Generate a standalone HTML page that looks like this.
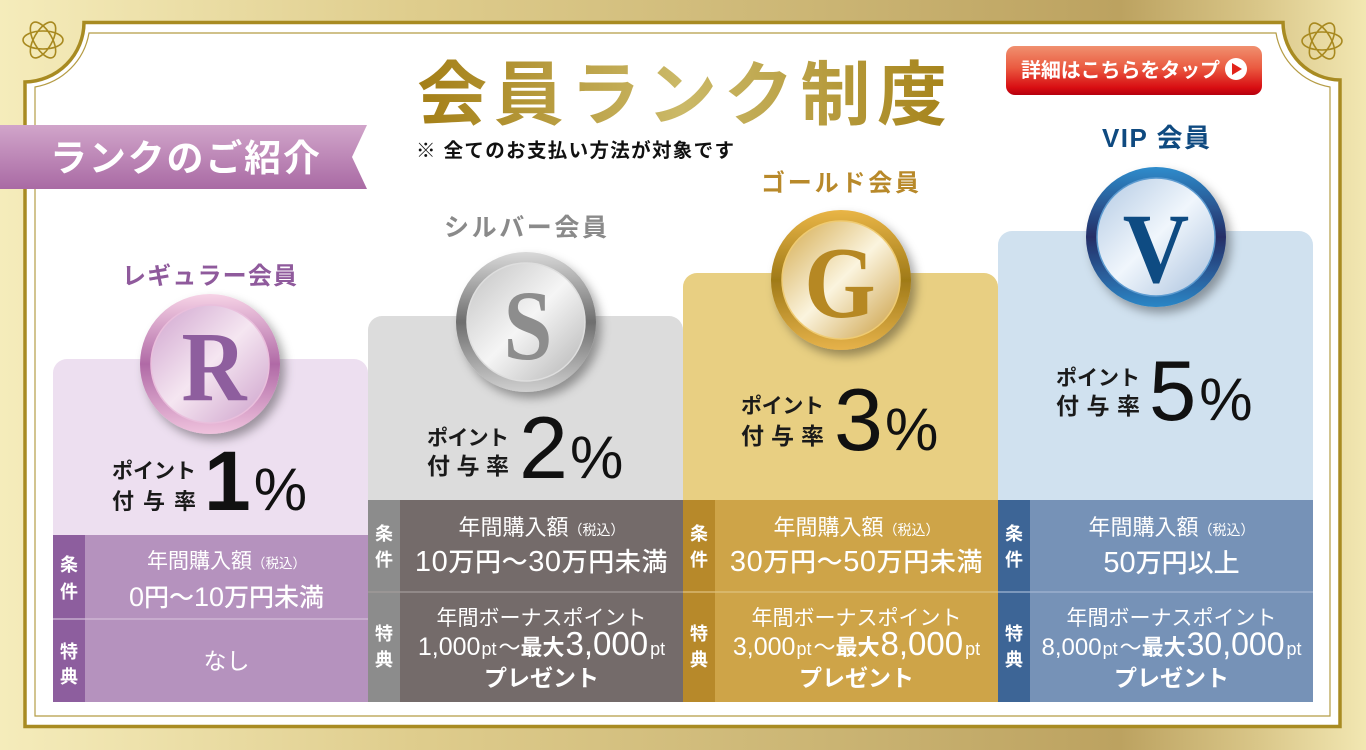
<!DOCTYPE html>
<html><head><meta charset="utf-8">
<style>
html,body{margin:0;padding:0;width:1366px;height:750px;overflow:hidden;background:#fff}
svg{display:block}
text{font-family:"Liberation Sans","Noto Sans CJK JP",sans-serif}
.s{font-family:"Liberation Serif",serif}
</style></head><body>
<svg width="1366" height="750" viewBox="0 0 1366 750" xmlns="http://www.w3.org/2000/svg">
<defs>
 <linearGradient id="bg" x1="0" y1="0" x2="1366" y2="0" gradientUnits="userSpaceOnUse">
  <stop offset="0" stop-color="#f5ecbb"/>
  <stop offset="0.3" stop-color="#dfcd8d"/>
  <stop offset="0.6" stop-color="#cbb574"/>
  <stop offset="0.82" stop-color="#bca260"/>
  <stop offset="0.92" stop-color="#d9c688"/>
  <stop offset="1" stop-color="#f2e7b2"/>
 </linearGradient>
 <linearGradient id="tg" x1="420" y1="0" x2="945" y2="0" gradientUnits="userSpaceOnUse">
  <stop offset="0" stop-color="#a47f17"/>
  <stop offset="0.5" stop-color="#cbb968"/>
  <stop offset="1" stop-color="#a6841c"/>
 </linearGradient>
 <linearGradient id="rib" x1="0" y1="0" x2="0" y2="1">
  <stop offset="0" stop-color="#d1a5ca"/>
  <stop offset="1" stop-color="#a96aa4"/>
 </linearGradient>
 <linearGradient id="btn" x1="0" y1="0" x2="0" y2="1">
  <stop offset="0" stop-color="#f0906f"/>
  <stop offset="0.45" stop-color="#ea5a40"/>
  <stop offset="0.85" stop-color="#d80d12"/>
  <stop offset="1" stop-color="#b5000e"/>
 </linearGradient>
 <filter id="sh" x="-30%" y="-30%" width="170%" height="170%">
  <feDropShadow dx="5" dy="6" stdDeviation="5" flood-color="#000" flood-opacity="0.35"/>
 </filter>
 <linearGradient id="rR" x1="0" y1="0" x2="0" y2="1">
  <stop offset="0" stop-color="#f6d3e6"/><stop offset="0.5" stop-color="#b06aa6"/><stop offset="1" stop-color="#efc2dd"/>
 </linearGradient>
 <linearGradient id="rF" x1="0" y1="0" x2="1" y2="1">
  <stop offset="0" stop-color="#cfa3ce"/><stop offset="0.5" stop-color="#f5e6f1"/><stop offset="1" stop-color="#cc9fca"/>
 </linearGradient>
 <linearGradient id="sR" x1="0" y1="0" x2="0" y2="1">
  <stop offset="0" stop-color="#d9d9d9"/><stop offset="0.5" stop-color="#6e6e6e"/><stop offset="1" stop-color="#d0d0d0"/>
 </linearGradient>
 <linearGradient id="sF" x1="0" y1="0" x2="1" y2="1">
  <stop offset="0" stop-color="#c2c2c2"/><stop offset="0.5" stop-color="#f5f5f5"/><stop offset="1" stop-color="#b3b3b3"/>
 </linearGradient>
 <linearGradient id="gR" x1="0" y1="0" x2="0" y2="1">
  <stop offset="0" stop-color="#e9b546"/><stop offset="0.5" stop-color="#9f7a18"/><stop offset="1" stop-color="#e6b24a"/>
 </linearGradient>
 <linearGradient id="gF" x1="0" y1="0" x2="1" y2="1">
  <stop offset="0" stop-color="#d3a94b"/><stop offset="0.5" stop-color="#fbf4de"/><stop offset="1" stop-color="#c99b3d"/>
 </linearGradient>
 <linearGradient id="vR" x1="0" y1="0" x2="0" y2="1">
  <stop offset="0" stop-color="#2e8ccc"/><stop offset="0.5" stop-color="#262e66"/><stop offset="1" stop-color="#2c86c6"/>
 </linearGradient>
 <linearGradient id="vF" x1="0" y1="0" x2="1" y2="1">
  <stop offset="0" stop-color="#b2c9e3"/><stop offset="0.5" stop-color="#f0f6fc"/><stop offset="1" stop-color="#a8c0dd"/>
 </linearGradient>
</defs>

<rect x="0" y="0" width="1366" height="750" fill="url(#bg)"/>
<path d="M84,22.5 H1283 A58,58 0 0 0 1340,80 V726.5 H25 V82 A60,60 0 0 0 84,22.5 Z" fill="#fff" stroke="#a88b22" stroke-width="3.5"/>
<path d="M89,33 H1276 A66,66 0 0 0 1330,87 V716 H35 V87 A66,66 0 0 0 89,33 Z" fill="none" stroke="#b59c45" stroke-width="1.2"/>

<g fill="none" stroke="#a8891f" stroke-width="1.6">
 <ellipse cx="43" cy="40" rx="20" ry="9" transform="rotate(0 43 40)"/>
 <ellipse cx="43" cy="40" rx="20" ry="9" transform="rotate(60 43 40)"/>
 <ellipse cx="43" cy="40" rx="20" ry="9" transform="rotate(120 43 40)"/>
 <ellipse cx="1322" cy="41" rx="20" ry="9" transform="rotate(0 1322 41)"/>
 <ellipse cx="1322" cy="41" rx="20" ry="9" transform="rotate(60 1322 41)"/>
 <ellipse cx="1322" cy="41" rx="20" ry="9" transform="rotate(120 1322 41)"/>
</g>

<text x="417" y="119" font-size="70" font-weight="700" fill="url(#tg)" textLength="530" lengthAdjust="spacing">会員ランク制度</text>
<text x="416" y="157" font-size="19.5" font-weight="700" fill="#111" textLength="318" lengthAdjust="spacing">※ 全てのお支払い方法が対象です</text>

<rect x="1006" y="46" width="256" height="49" rx="9" fill="url(#btn)"/>
<text x="1021" y="77" font-size="20" font-weight="700" fill="#fff" textLength="199" lengthAdjust="spacing">詳細はこちらをタップ</text>
<circle cx="1236" cy="69" r="11" fill="#fff"/>
<polygon points="1232,63 1232,75 1242,69" fill="#e2231a"/>

<polygon points="0,125 367,125 352,157 367,189 0,189" fill="url(#rib)"/>
<text x="50" y="171" font-size="37" font-weight="700" fill="#fff" textLength="270" lengthAdjust="spacing">ランクのご紹介</text>

<rect x="53" y="359" width="315" height="60" rx="14" fill="#eddff0"/>
<rect x="53" y="380" width="315" height="155" fill="#eddff0"/>
<rect x="368" y="316" width="315" height="60" rx="14" fill="#dcdcdc"/>
<rect x="368" y="340" width="315" height="160" fill="#dcdcdc"/>
<rect x="683" y="273" width="315" height="60" rx="14" fill="#e8cf82"/>
<rect x="683" y="300" width="315" height="200" fill="#e8cf82"/>
<rect x="998" y="231" width="315" height="60" rx="14" fill="#d0e1ef"/>
<rect x="998" y="260" width="315" height="240" fill="#d0e1ef"/>

<text x="122" y="284" font-size="24" font-weight="700" fill="#8f5a9c" textLength="175" lengthAdjust="spacing">レギュラー会員</text>
<text x="444" y="236" font-size="25" font-weight="700" fill="#8a8a8a" textLength="163" lengthAdjust="spacing">シルバー会員</text>
<text x="761" y="191" font-size="24" font-weight="700" fill="#b8892a" textLength="158" lengthAdjust="spacing">ゴールド会員</text>
<text x="1102" y="147" font-size="26" font-weight="700" fill="#0f4a80" textLength="108" lengthAdjust="spacing">VIP 会員</text>

<g filter="url(#sh)"><circle cx="210" cy="364" r="70" fill="url(#rR)"/></g>
<circle cx="210" cy="364" r="59" fill="url(#rF)" stroke="#e9bfdc" stroke-width="1.5"/>
<text class="s" x="214" y="400" font-size="100" font-weight="700" fill="#8e5e9e" text-anchor="middle" transform="translate(214,0) scale(0.9,1) translate(-214,0)">R</text>

<g filter="url(#sh)"><circle cx="526" cy="322" r="70" fill="url(#sR)"/></g>
<circle cx="526" cy="322" r="59" fill="url(#sF)" stroke="#dedede" stroke-width="1.5"/>
<text class="s" x="528" y="359" font-size="100" font-weight="700" fill="#8d8d8d" text-anchor="middle" transform="translate(528,0) scale(0.88,1) translate(-528,0)">S</text>

<g filter="url(#sh)"><circle cx="841" cy="280" r="70" fill="url(#gR)"/></g>
<circle cx="841" cy="280" r="59" fill="url(#gF)" stroke="#efcb72" stroke-width="1.5"/>
<text class="s" x="840" y="317" font-size="102" font-weight="700" fill="#b68823" text-anchor="middle" transform="translate(840,0) scale(0.9,1) translate(-840,0)">G</text>

<g filter="url(#sh)"><circle cx="1156" cy="237" r="70" fill="url(#vR)"/></g>
<circle cx="1156" cy="237" r="59" fill="url(#vF)" stroke="#5d9bd0" stroke-width="1.5"/>
<text class="s" x="1156" y="282" font-size="100" font-weight="700" fill="#0e4b82" text-anchor="middle" transform="translate(1156,0) scale(0.92,1) translate(-1156,0)">V</text>

<g font-weight="700" fill="#1a1a1a">
 <text x="112" y="478" font-size="21" textLength="84" lengthAdjust="spacing">ポイント</text>
 <text x="112" y="509" font-size="22" textLength="84" lengthAdjust="spacing">付与率</text>
 <text x="427" y="445" font-size="21" textLength="82" lengthAdjust="spacing">ポイント</text>
 <text x="427" y="474" font-size="23" textLength="82" lengthAdjust="spacing">付与率</text>
 <text x="741" y="413" font-size="21" textLength="83" lengthAdjust="spacing">ポイント</text>
 <text x="741" y="444" font-size="23" textLength="83" lengthAdjust="spacing">付与率</text>
 <text x="1056" y="385" font-size="21" textLength="84" lengthAdjust="spacing">ポイント</text>
 <text x="1056" y="414" font-size="23" textLength="84" lengthAdjust="spacing">付与率</text>
</g>
<g fill="#111">
 <text x="204" y="510"><tspan font-size="84" font-weight="700">1</tspan><tspan font-size="60" dx="3">%</tspan></text>
 <text x="519" y="478"><tspan font-size="88">2</tspan><tspan font-size="60" dx="2">%</tspan></text>
 <text x="834" y="450"><tspan font-size="88">3</tspan><tspan font-size="60" dx="2">%</tspan></text>
 <text x="1149" y="420"><tspan font-size="85">5</tspan><tspan font-size="60" dx="3">%</tspan></text>
</g>

<rect x="53" y="535" width="32" height="167" fill="#8d5e9e"/>
<rect x="85" y="535" width="283" height="167" fill="#b592be"/>
<line x1="53" y1="619" x2="368" y2="619" stroke="#d3bdd7" stroke-width="1.2"/>

<rect x="368" y="500" width="32" height="202" fill="#8c8c8c"/>
<rect x="400" y="500" width="283" height="202" fill="#746b6a"/>
<line x1="368" y1="592" x2="683" y2="592" stroke="#a29b9a" stroke-width="1.2"/>

<rect x="683" y="500" width="32" height="202" fill="#b7892a"/>
<rect x="715" y="500" width="283" height="202" fill="#cea448"/>
<line x1="683" y1="592" x2="998" y2="592" stroke="#dfc27f" stroke-width="1.2"/>

<rect x="998" y="500" width="32" height="202" fill="#3d6596"/>
<rect x="1030" y="500" width="283" height="202" fill="#7692b7"/>
<line x1="998" y1="592" x2="1313" y2="592" stroke="#a2b6d2" stroke-width="1.2"/>

<g fill="#fff" font-size="18" font-weight="700" text-anchor="middle">
 <text x="69" y="571">条</text><text x="69" y="598">件</text>
 <text x="69" y="658">特</text><text x="69" y="683">典</text>
 <text x="384" y="540">条</text><text x="384" y="566">件</text>
 <text x="384" y="640">特</text><text x="384" y="666">典</text>
 <text x="699" y="540">条</text><text x="699" y="566">件</text>
 <text x="699" y="640">特</text><text x="699" y="666">典</text>
 <text x="1014" y="540">条</text><text x="1014" y="566">件</text>
 <text x="1014" y="640">特</text><text x="1014" y="666">典</text>
</g>

<g fill="#fff" text-anchor="middle">
 <text x="226.5" y="568" font-size="21">年間購入額<tspan font-size="13.5">（税込）</tspan></text>
 <text x="226.5" y="606" font-size="25" font-weight="500"><tspan font-size="27" font-weight="400">0</tspan>円〜<tspan font-size="27" font-weight="400">10</tspan>万円未満</text>
 <text x="226.5" y="669" font-size="23">なし</text>

 <text x="541.5" y="535" font-size="22">年間購入額<tspan font-size="14">（税込）</tspan></text>
 <text x="541.5" y="571" font-size="26" font-weight="500" letter-spacing="0.6"><tspan font-size="29" font-weight="400">10</tspan>万円〜<tspan font-size="29" font-weight="400">30</tspan>万円未満</text>
 <text x="541.5" y="625" font-size="21">年間ボーナスポイント</text>
 <text x="541.5" y="655"><tspan font-size="25">1,000</tspan><tspan font-size="18" dx="1">pt</tspan><tspan font-size="22" dx="2">〜</tspan><tspan font-size="22" font-weight="700">最大</tspan><tspan font-size="33" dx="1">3,000</tspan><tspan font-size="18" dx="2">pt</tspan></text>
 <text x="541.5" y="686" font-size="23" font-weight="700">プレゼント</text>

 <text x="856.5" y="535" font-size="22">年間購入額<tspan font-size="14">（税込）</tspan></text>
 <text x="856.5" y="571" font-size="26" font-weight="500" letter-spacing="0.6"><tspan font-size="29" font-weight="400">30</tspan>万円〜<tspan font-size="29" font-weight="400">50</tspan>万円未満</text>
 <text x="856.5" y="625" font-size="21">年間ボーナスポイント</text>
 <text x="856.5" y="655"><tspan font-size="25">3,000</tspan><tspan font-size="18" dx="1">pt</tspan><tspan font-size="22" dx="2">〜</tspan><tspan font-size="22" font-weight="700">最大</tspan><tspan font-size="33" dx="1">8,000</tspan><tspan font-size="18" dx="2">pt</tspan></text>
 <text x="856.5" y="686" font-size="23" font-weight="700">プレゼント</text>

 <text x="1171.5" y="535" font-size="22">年間購入額<tspan font-size="14">（税込）</tspan></text>
 <text x="1171.5" y="572" font-size="26" font-weight="500"><tspan font-size="29" font-weight="400">50</tspan>万円以上</text>
 <text x="1171.5" y="625" font-size="21">年間ボーナスポイント</text>
 <text x="1171.5" y="655"><tspan font-size="24">8,000</tspan><tspan font-size="18" dx="1">pt</tspan><tspan font-size="22" dx="2">〜</tspan><tspan font-size="22" font-weight="700">最大</tspan><tspan font-size="32" dx="1">30,000</tspan><tspan font-size="18" dx="2">pt</tspan></text>
 <text x="1171.5" y="686" font-size="23" font-weight="700">プレゼント</text>
</g>
</svg>
</body></html>
